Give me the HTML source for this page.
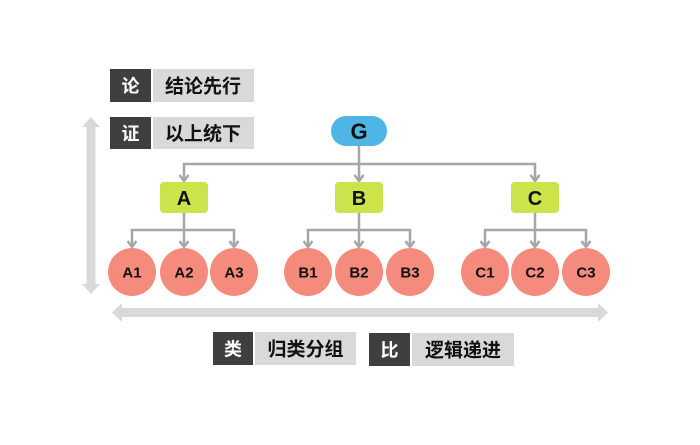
<!DOCTYPE html>
<html>
<head>
<meta charset="utf-8">
<style>
html,body{margin:0;padding:0;background:#fff;}
body{width:700px;height:445px;overflow:hidden;}
svg{display:block;}
.lat{font-family:"Liberation Sans",Arial,sans-serif;font-weight:bold;fill:#111;}
.cjk{font-family:"Liberation Sans","Noto Sans CJK SC","WenQuanYi Zen Hei",sans-serif;font-weight:bold;}
</style>
</head>
<body>
<svg width="700" height="445" viewBox="0 0 700 445" xmlns="http://www.w3.org/2000/svg">
  <rect width="700" height="445" fill="#ffffff"/>

  <!-- vertical big arrow -->
  <polygon points="91,117 100,127 95.5,127 95.5,284 100,284 91,294 82,284 86.5,284 86.5,127 82,127" fill="#d9d9d9"/>
  <!-- horizontal big arrow -->
  <polygon points="112,312.5 122,303 122,308 598,308 598,303 608,312.5 598,322 598,317 122,317 122,322" fill="#d9d9d9"/>

  <!-- labels top-left -->
  <rect x="110" y="69" width="41" height="33" fill="#3f3f3f"/>
  <rect x="153" y="69" width="101" height="33" fill="#d9d9d9"/>
  <text x="130.5" y="92.5" text-anchor="middle" class="cjk" font-size="18" fill="#fff">论</text>
  <text x="203" y="92.5" text-anchor="middle" class="cjk" font-size="19" fill="#111">结论先行</text>

  <rect x="110" y="117" width="41" height="32" fill="#3f3f3f"/>
  <rect x="153" y="117" width="101" height="32" fill="#d9d9d9"/>
  <text x="130.5" y="140" text-anchor="middle" class="cjk" font-size="18" fill="#fff">证</text>
  <text x="203" y="140" text-anchor="middle" class="cjk" font-size="19" fill="#111">以上统下</text>

  <!-- labels bottom -->
  <rect x="213" y="332" width="40" height="33" fill="#3f3f3f"/>
  <rect x="255" y="332" width="101" height="33" fill="#d9d9d9"/>
  <text x="233" y="355.5" text-anchor="middle" class="cjk" font-size="18" fill="#fff">类</text>
  <text x="305.5" y="355.5" text-anchor="middle" class="cjk" font-size="19" fill="#111">归类分组</text>

  <rect x="369" y="333" width="41" height="33" fill="#3f3f3f"/>
  <rect x="412" y="333" width="102" height="33" fill="#d9d9d9"/>
  <text x="389.5" y="356.5" text-anchor="middle" class="cjk" font-size="18" fill="#fff">比</text>
  <text x="463" y="356.5" text-anchor="middle" class="cjk" font-size="19" fill="#111">逻辑递进</text>

  <!-- connectors -->
  <g stroke="#a6a6a6" stroke-width="2.5" fill="none" stroke-linecap="butt">
    <!-- G level -->
    <line x1="359" y1="146" x2="359" y2="181"/>
    <polyline points="184,181 184,164 535,164 535,181"/>
    <!-- A level -->
    <line x1="184" y1="213" x2="184" y2="247"/>
    <polyline points="132,247 132,230 234,230 234,247"/>
    <!-- B level -->
    <line x1="359" y1="213" x2="359" y2="247"/>
    <polyline points="308,247 308,230 410,230 410,247"/>
    <!-- C level -->
    <line x1="535" y1="213" x2="535" y2="247"/>
    <polyline points="485,247 485,230 586,230 586,247"/>
    <!-- arrowheads -->
    <g stroke-linejoin="miter">
      <polyline points="179.5,175 184,181 188.5,175"/>
      <polyline points="354.5,175 359,181 363.5,175"/>
      <polyline points="530.5,175 535,181 539.5,175"/>
      <polyline points="127.5,241 132,247 136.5,241"/>
      <polyline points="179.5,241 184,247 188.5,241"/>
      <polyline points="229.5,241 234,247 238.5,241"/>
      <polyline points="303.5,241 308,247 312.5,241"/>
      <polyline points="354.5,241 359,247 363.5,241"/>
      <polyline points="405.5,241 410,247 414.5,241"/>
      <polyline points="480.5,241 485,247 489.5,241"/>
      <polyline points="530.5,241 535,247 539.5,241"/>
      <polyline points="581.5,241 586,247 590.5,241"/>
    </g>
  </g>

  <!-- G -->
  <rect x="331" y="116" width="56" height="30" rx="15" ry="15" fill="#4fb5e6"/>
  <text x="359" y="139" text-anchor="middle" class="lat" font-size="22">G</text>

  <!-- A B C -->
  <rect x="160" y="182" width="48" height="31" rx="4" fill="#cde34b"/>
  <text x="184" y="205" text-anchor="middle" class="lat" font-size="20">A</text>
  <rect x="335" y="182" width="48" height="31" rx="4" fill="#cde34b"/>
  <text x="359" y="205" text-anchor="middle" class="lat" font-size="20">B</text>
  <rect x="511" y="182" width="48" height="31" rx="4" fill="#cde34b"/>
  <text x="535" y="205" text-anchor="middle" class="lat" font-size="20">C</text>

  <!-- circles -->
  <g fill="#f58b7c">
    <circle cx="132" cy="272" r="24"/>
    <circle cx="184" cy="272" r="24"/>
    <circle cx="234" cy="272" r="24"/>
    <circle cx="308" cy="272" r="24"/>
    <circle cx="359" cy="272" r="24"/>
    <circle cx="410" cy="272" r="24"/>
    <circle cx="485" cy="272" r="24"/>
    <circle cx="535" cy="272" r="24"/>
    <circle cx="586" cy="272" r="24"/>
  </g>
  <g class="lat" font-size="15" text-anchor="middle">
    <text x="132" y="277.5">A1</text>
    <text x="184" y="277.5">A2</text>
    <text x="234" y="277.5">A3</text>
    <text x="308" y="277.5">B1</text>
    <text x="359" y="277.5">B2</text>
    <text x="410" y="277.5">B3</text>
    <text x="485" y="277.5">C1</text>
    <text x="535" y="277.5">C2</text>
    <text x="586" y="277.5">C3</text>
  </g>
</svg>
</body>
</html>
